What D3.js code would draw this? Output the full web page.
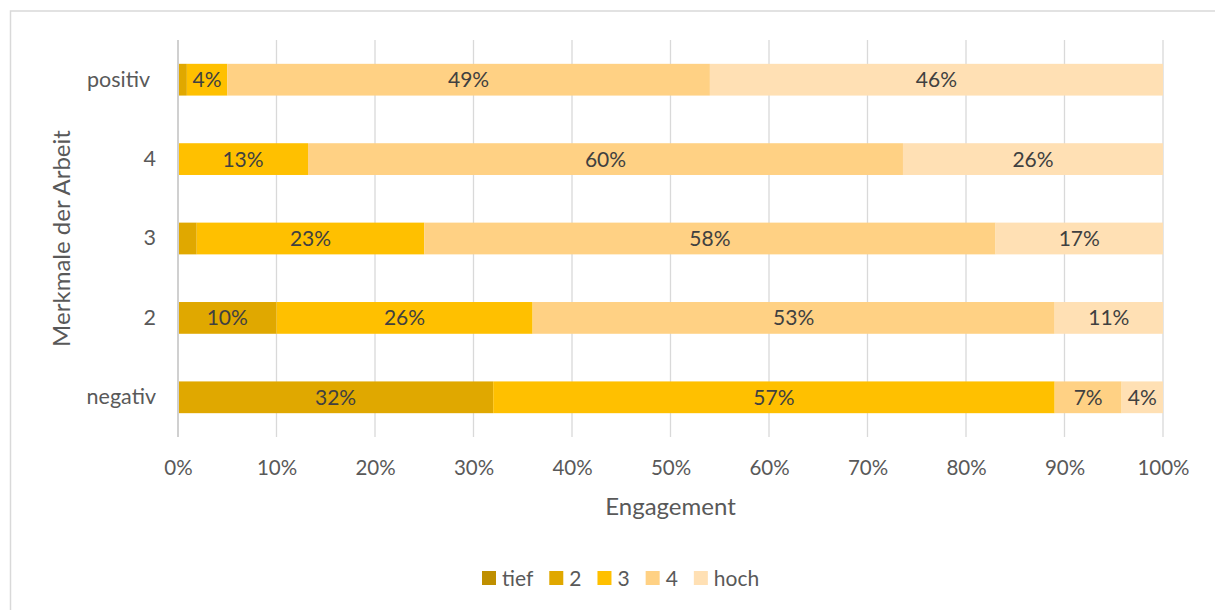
<!DOCTYPE html>
<html>
<head>
<meta charset="utf-8">
<script src="https://cdn.jsdelivr.net/npm/d3@7/dist/d3.min.js"></script>
<style>
  html, body { margin: 0; padding: 0; background: #fff; }
  svg text { font-family: Lato, "Open Sans", sans-serif; }
</style>
</head>
<body>
<svg id="chart" width="1215" height="610"></svg>
<script>
// Categories (top to bottom)
const categories = ["positiv", "4", "3", "2", "negativ"];
const seriesNames = ["tief", "2", "3", "4", "hoch"];
const seriesColors = ["#BF8F00", "#E0A800", "#FFC000", "#FFD184", "#FFE0B4"];
// Series values (%) per category, same order as categories
const tiefValues = [0, 0, 0, 0, 0];
const s2Values   = [0.9, 0, 1.9, 10, 32];
const s3Values   = [4.1, 13.2, 23.1, 26, 57];
const s4Values   = [49, 60.4, 58, 53, 6.8];
const hochValues = [46, 26.4, 17, 11, 4.2];
const xTicks = [0, 10, 20, 30, 40, 50, 60, 70, 80, 90, 100];

const allValues = [tiefValues, s2Values, s3Values, s4Values, hochValues];
const data = categories.map((c, i) => {
  const row = { cat: c };
  seriesNames.forEach((s, j) => row[s] = allValues[j][i]);
  return row;
});

const svg = d3.select("#chart");
const m = { left: 178, right: 1163, top: 40, bottom: 437 };

// chart border
svg.append("rect").attr("x", 10.5).attr("y", 11).attr("width", 1220).attr("height", 620)
  .attr("fill", "#fff").attr("stroke", "#d9d9d9").attr("stroke-width", 1.5);

const x = d3.scaleLinear().domain([0, 100]).range([m.left, m.right]);
const y = d3.scaleBand().domain(categories).range([m.top, m.bottom]).paddingInner(0.6).paddingOuter(0.3);

// gridlines
svg.append("g").selectAll("line").data(xTicks.slice(1)).join("line")
  .attr("x1", d => x(d)).attr("x2", d => x(d))
  .attr("y1", m.top).attr("y2", m.bottom)
  .attr("stroke", "#d9d9d9").attr("stroke-width", 1.3);

const stack = d3.stack().keys(seriesNames)(data);

const g = svg.append("g");
stack.forEach((layer, j) => {
  g.append("g").selectAll("rect").data(layer).join("rect")
    .attr("x", d => x(d[0]))
    .attr("width", d => x(d[1]) - x(d[0]))
    .attr("y", d => y(d.data.cat))
    .attr("height", y.bandwidth())
    .attr("fill", seriesColors[j]);
});

// data labels
stack.forEach((layer, j) => {
  g.append("g").selectAll("text").data(layer.filter(d => d[1] - d[0] >= 3)).join("text")
    .attr("x", d => (x(d[0]) + x(d[1])) / 2)
    .attr("y", d => y(d.data.cat) + y.bandwidth() / 2)
    .attr("dy", "0.36em")
    .attr("text-anchor", "middle")
    .attr("font-size", 21)
    .attr("fill", "#404040")
    .text(d => Math.round(d[1] - d[0]) + "%");
});

// left axis line
svg.append("line").attr("x1", m.left).attr("x2", m.left).attr("y1", m.top).attr("y2", m.bottom)
  .attr("stroke", "#d0d0d0").attr("stroke-width", 2);

// x axis
const xAxis = d3.axisBottom(x).tickValues(xTicks).tickFormat(d => d + "%").tickSize(0).tickPadding(0);
const xa = svg.append("g").attr("transform", `translate(0,${m.bottom})`).call(xAxis);
xa.select(".domain").remove();
xa.selectAll("text").attr("font-size", 20.5).attr("fill", "#595959").attr("dy", null).attr("y", 38)
  .style("font-family", "Lato, sans-serif");

// y axis
const yAxis = d3.axisLeft(y).tickSize(0).tickPadding(0);
const ya = svg.append("g").attr("transform", `translate(156,0)`).call(yAxis);
ya.select(".domain").remove();
ya.selectAll("text").attr("font-size", 21.5).attr("fill", "#595959")
  .attr("x", d => d === "positiv" ? -6 : 0)
  .style("font-family", "Lato, sans-serif");

// axis titles
svg.append("text").attr("x", (m.left + m.right) / 2).attr("y", 515)
  .attr("text-anchor", "middle").attr("font-size", 24).attr("fill", "#595959").text("Engagement");
svg.append("text").attr("transform", `translate(70,${(m.top + m.bottom) / 2}) rotate(-90)`)
  .attr("text-anchor", "middle").attr("font-size", 24).attr("fill", "#595959").text("Merkmale der Arbeit");

// legend
const lg = svg.append("g");
const items = [];
seriesNames.forEach((s, j) => {
  const it = lg.append("g");
  it.append("rect").attr("x", 0).attr("y", -7).attr("width", 14).attr("height", 14).attr("fill", seriesColors[j]);
  const t = it.append("text").attr("x", 20).attr("y", 0).attr("dy", "0.36em")
    .attr("font-size", 21).attr("fill", "#595959").text(s);
  items.push({ it, w: 20 + t.node().getComputedTextLength() });
});
const gap = 16;
let cx = 482;
items.forEach(d => { d.it.attr("transform", `translate(${cx},578)`); cx += d.w + gap; });
</script>
</body>
</html>
